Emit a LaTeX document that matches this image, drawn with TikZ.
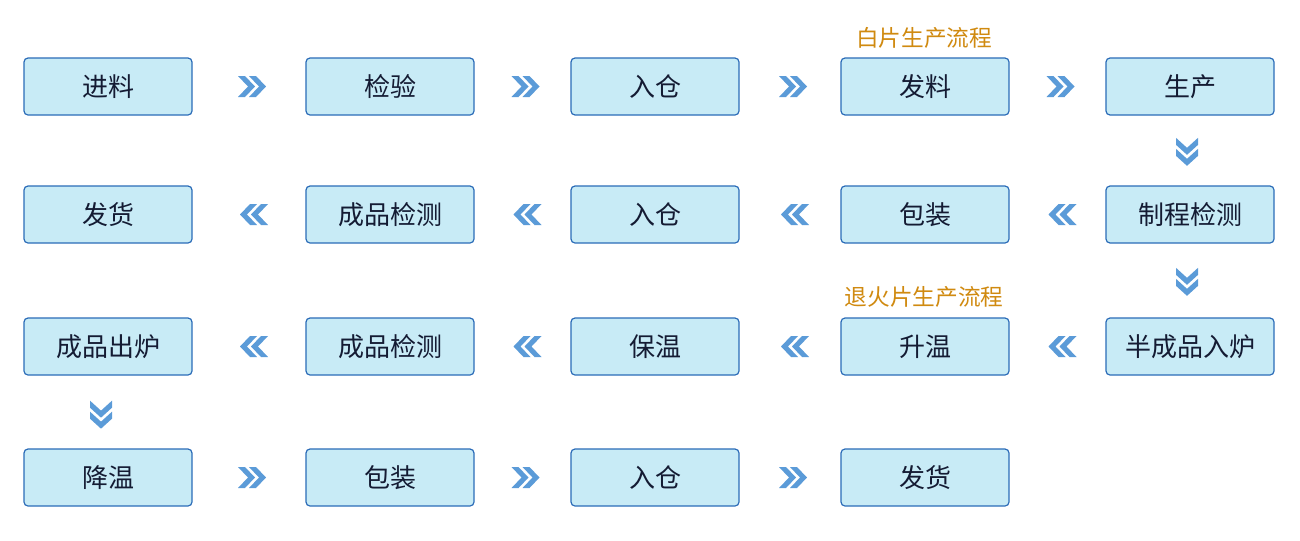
\documentclass[tikz,border=0pt]{standalone}
\usepackage{fontspec}
\setmainfont{Noto Sans CJK SC}
\begin{document}
\begin{tikzpicture}[x=0.75pt,y=-0.75pt,
  stepbox/.style={draw=boxline,fill=boxfill,line width=0.9pt,rounded corners=3pt,
    minimum width=126pt,minimum height=42.75pt,inner sep=0pt,
    font=\fontsize{19.5}{20}\selectfont,text=boxtext},
  title/.style={font=\fontsize{17}{18}\selectfont,text=titlecol},
  chevR/.pic={\foreach \o in {3,14}{\fill[chev] ({\o-14},-10.5) -- ({\o-7},-10.5) -- ({\o+3},0) -- ({\o-7},10.5) -- ({\o-14},10.5) -- ({\o-4},0) -- cycle;}},
  chevL/.pic={\foreach \o in {-5,6}{\fill[chev] ({14-\o},-10.5) -- ({7-\o},-10.5) -- ({-3-\o},0) -- ({7-\o},10.5) -- ({14-\o},10.5) -- ({4-\o},0) -- cycle;}},
  chevD/.pic={\foreach \o in {0,11}{\fill[chev] (-11,{\o-14}) -- (-11,{\o-7}) -- (0,{\o+3}) -- (11,{\o-7}) -- (11,{\o-14}) -- (0,{\o-4}) -- cycle;}},
  chev/.style={fill=chevcol}
]
\definecolor{boxline}{HTML}{2B6CB8}
\definecolor{boxfill}{HTML}{C8EBF6}
\definecolor{boxtext}{HTML}{141B33}
\definecolor{titlecol}{HTML}{D08A10}
\definecolor{chevcol}{HTML}{5B9BD8}
\useasboundingbox (0,0) rectangle (1300,540);
\fill[white] (0,0) rectangle (1300,540);
% row 1
\node[stepbox] (a1) at (108,86.5) {进料};
\node[stepbox] (a2) at (390,86.5) {检验};
\node[stepbox] (a3) at (655,86.5) {入仓};
\node[stepbox] (a4) at (925,86.5) {发料};
\node[stepbox] (a5) at (1190,86.5) {生产};
% row 2
\node[stepbox] (b1) at (108,214.5) {发货};
\node[stepbox] (b2) at (390,214.5) {成品检测};
\node[stepbox] (b3) at (655,214.5) {入仓};
\node[stepbox] (b4) at (925,214.5) {包装};
\node[stepbox] (b5) at (1190,214.5) {制程检测};
% row 3
\node[stepbox] (c1) at (108,346.5) {成品出炉};
\node[stepbox] (c2) at (390,346.5) {成品检测};
\node[stepbox] (c3) at (655,346.5) {保温};
\node[stepbox] (c4) at (925,346.5) {升温};
\node[stepbox] (c5) at (1190,346.5) {半成品入炉};
% row 4
\node[stepbox] (d1) at (108,477.5) {降温};
\node[stepbox] (d2) at (390,477.5) {包装};
\node[stepbox] (d3) at (655,477.5) {入仓};
\node[stepbox] (d4) at (925,477.5) {发货};
% titles
\node[title] (t1) at (924,38) {白片生产流程};
\node[title] (t2) at (924,297) {退火片生产流程};
% chevrons
\path (a1) -- (a2) pic[pos=0.5]{chevR};
\path (a2) -- (a3) pic[pos=0.5]{chevR};
\path (a3) -- (a4) pic[pos=0.5]{chevR};
\path (a4) -- (a5) pic[pos=0.5]{chevR};
\path (a5) -- (b5) pic[pos=0.5,xshift=-2.25pt,yshift=-1pt]{chevD};
\path (b5) -- (b4) pic[pos=0.5]{chevL};
\path (b4) -- (b3) pic[pos=0.5]{chevL};
\path (b3) -- (b2) pic[pos=0.5]{chevL};
\path (b2) -- (b1) pic[pos=0.5]{chevL};
\path (b5) -- (c5) pic[pos=0.5,xshift=-2.25pt,yshift=-1pt]{chevD};
\path (c5) -- (c4) pic[pos=0.5]{chevL};
\path (c4) -- (c3) pic[pos=0.5]{chevL};
\path (c3) -- (c2) pic[pos=0.5]{chevL};
\path (c2) -- (c1) pic[pos=0.5]{chevL};
\path (c1) -- (d1) pic[pos=0.5,xshift=-5.25pt,yshift=-2pt]{chevD};
\path (d1) -- (d2) pic[pos=0.5]{chevR};
\path (d2) -- (d3) pic[pos=0.5]{chevR};
\path (d3) -- (d4) pic[pos=0.5]{chevR};
\end{tikzpicture}
\end{document}
